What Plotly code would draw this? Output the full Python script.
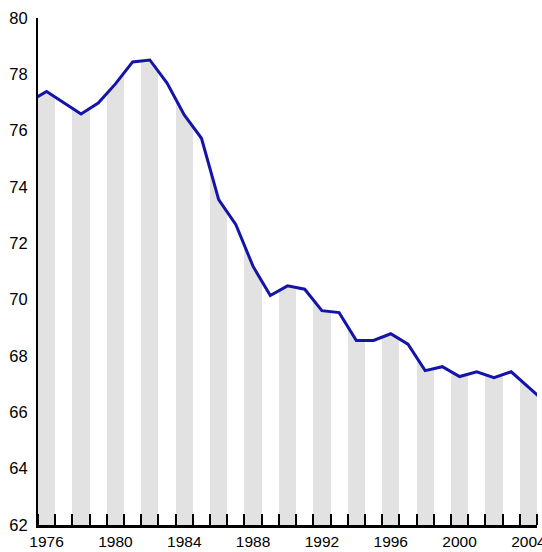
import plotly.graph_objects as go

# Data
years = list(range(1975, 2006))
values = [77.04, 77.39, 76.99, 76.59, 76.98, 77.66, 78.44, 78.51, 77.69, 76.56,
          75.73, 73.55, 72.66, 71.18, 70.15, 70.49, 70.37, 69.61, 69.54, 68.55,
          68.55, 68.79, 68.42, 67.48, 67.62, 67.27, 67.44, 67.23, 67.44, 66.89,
          66.35]
stripe_years = list(range(1976, 2005, 2))
x_tick_vals = list(range(1976, 2005, 4))
x_tick_text = [str(v) for v in x_tick_vals]
y_tick_vals = list(range(62, 81, 2))

Y_MIN, Y_MAX = 62, 80
LINE_COLOR = "#1414aa"
STRIPE_COLOR = "#e2e2e2"

fig = go.Figure()

# alternating grey stripes (even years)
fig.add_trace(go.Bar(
    x=stripe_years, y=[Y_MAX] * len(stripe_years), width=1,
    marker=dict(color=STRIPE_COLOR, line=dict(width=0)),
    hoverinfo="skip", showlegend=False))

# top reference for the white mask above the line
fig.add_trace(go.Scatter(
    x=years, y=[Y_MAX] * len(years), mode="lines",
    line=dict(width=0, color="white"), hoverinfo="skip", showlegend=False))

# line with white fill up to the top (masks the stripes above the curve)
fig.add_trace(go.Scatter(
    x=years, y=values, mode="lines", fill="tonexty", fillcolor="white",
    line=dict(color=LINE_COLOR, width=3), showlegend=False))

fig.update_layout(
    width=542, height=552,
    margin=dict(l=38, r=5, t=18, b=27),
    paper_bgcolor="white", plot_bgcolor="white",
    bargap=0,
    font=dict(family="Liberation Sans, Arial, sans-serif", size=15, color="black"),
    xaxis=dict(
        range=[1975.5, 2004.5],
        automargin=False,
        tickmode="array", tickvals=x_tick_vals, ticktext=x_tick_text,
        ticks="", showgrid=False, zeroline=False,
        showline=True, linecolor="black", linewidth=3,
        ticklabeloverflow="allow",
        ticklabelstandoff=0,
        minor=dict(tickmode="linear", tick0=1976.5, dtick=1, ticks="inside",
                   ticklen=11, tickwidth=1.5, tickcolor="black", showgrid=False),
        tickfont=dict(size=15.5),
    ),
    yaxis=dict(
        range=[Y_MIN, Y_MAX],
        automargin=False,
        tickmode="array", tickvals=y_tick_vals,
        ticks="", showgrid=False, zeroline=False,
        showline=True, linecolor="black", linewidth=2,
        ticklabelstandoff=5,
        tickfont=dict(size=16.5),
    ),
)

fig.write_html("out.html", config={"displayModeBar": False},
               post_script="document.body.style.margin='0';")
